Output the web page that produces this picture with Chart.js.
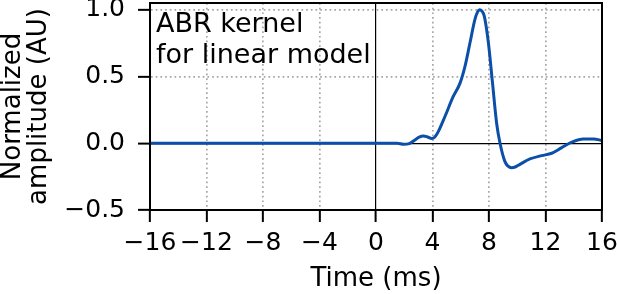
<!DOCTYPE html>
<html>
<head>
<meta charset="utf-8">
<script src="https://cdn.jsdelivr.net/npm/chart.js@4/dist/chart.umd.min.js"></script>
<style>
  html, body { margin: 0; padding: 0; background: #fff; }
  #wrap { width: 617px; height: 294px; }
</style>
</head>
<body>
<div id="wrap"><canvas id="kernel" width="617" height="294"></canvas></div>
<script>
// values
var timeMs = [-16, -8, 0, 1.0, 1.5, 1.95, 2.35, 2.76, 3.05, 3.35, 3.65, 3.94, 4.15, 4.41, 4.88,
  5.47, 5.95, 6.3, 6.65, 7.0, 7.2, 7.33, 7.5, 7.67, 7.96, 8.25, 8.54, 8.78, 9.13, 9.35, 9.6,
  9.85, 10.19, 10.9, 11.73, 12.44, 13.15, 13.86, 14.68, 15.4, 16];
var amplitude = [0, 0, 0, 0, 0, -0.008, -0.003, 0.025, 0.045, 0.055, 0.047, 0.035, 0.045, 0.087, 0.2,
  0.35, 0.45, 0.575, 0.75, 0.925, 0.985, 1.0, 0.99, 0.95, 0.75, 0.45, 0.15, 0.0, -0.138, -0.172, -0.183,
  -0.178, -0.158, -0.118, -0.093, -0.075, -0.033, 0.008, 0.032, 0.032, 0.02];
var xTicks = [-16, -12, -8, -4, 0, 4, 8, 12, 16];
var yTicks = [-0.5, 0, 0.5, 1.0];
var noteLines = ["ABR kernel", "for linear model"];

var FONT = "'DejaVu Sans', sans-serif";
var minus = function (s) { return s.replace("-", "\u2212"); };

var gridColor = function (ctx) {
  return ctx.tick && ctx.tick.value === 0 ? "#000" : "#a6a6a6";
};
var gridWidth = function (ctx) {
  return ctx.tick && ctx.tick.value === 0 ? 1.2 : 1.7;
};
var gridDash = function (ctx) {
  return ctx.tick && ctx.tick.value === 0 ? [] : [1.7, 3];
};

// frame on all four sides + the text box
var framePlugin = {
  id: "frame",
  afterDatasetsDraw: function (chart) {
    var c = chart.ctx, a = chart.chartArea;
    c.save();
    c.fillStyle = "#000";
    c.font = "27px " + FONT;
    c.textBaseline = "alphabetic";
    c.textAlign = "left";
    c.fillText(noteLines[0], a.left + 6, 31.5);
    c.fillText(noteLines[1], a.left + 6, 63);
    c.strokeStyle = "#000";
    c.lineWidth = 2;
    c.strokeRect(a.left, a.top, a.right - a.left, a.bottom - a.top);
    c.restore();
  }
};

new Chart(document.getElementById("kernel"), {
  type: "line",
  data: {
    datasets: [{
      data: timeMs.map(function (t, i) { return { x: t, y: amplitude[i] }; }),
      borderColor: "#0b4fa9",
      borderWidth: 3,
      pointRadius: 0,
      fill: false,
      cubicInterpolationMode: "monotone"
    }]
  },
  options: {
    responsive: false,
    animation: false,
    layout: { padding: { top: 3, right: 15, left: 0, bottom: 0 } },
    plugins: { legend: { display: false }, tooltip: { enabled: false } },
    scales: {
      x: {
        type: "linear",
        min: -16,
        max: 16,
        afterBuildTicks: function (s) { s.ticks = xTicks.map(function (v) { return { value: v }; }); },
        afterFit: function (s) { s.height = 84; s.paddingLeft = 0; s.paddingRight = 0; },
        ticks: {
          autoSkip: false, maxRotation: 0, padding: 6, color: "#000",
          font: { family: FONT, size: 25 },
          callback: function (v) { return minus(String(v)); }
        },
        grid: { color: gridColor, lineWidth: gridWidth, tickColor: "#000", tickWidth: 2, tickLength: 12 },
        border: { display: true, color: "#000", width: 2, dash: gridDash },
        title: {
          display: true, text: "Time (ms)", color: "#000",
          font: { family: FONT, size: 26, lineHeight: 1.0 },
          padding: { top: 0, bottom: 2 }
        }
      },
      y: {
        min: -0.5,
        max: 1.05,
        afterBuildTicks: function (s) { s.ticks = yTicks.map(function (v) { return { value: v }; }); },
        afterFit: function (s) { s.width = 150; s.paddingTop = 0; s.paddingBottom = 0; },
        ticks: {
          padding: 13, color: "#000",
          font: { family: FONT, size: 25 },
          callback: function (v) { return minus(v.toFixed(1)); }
        },
        grid: { color: gridColor, lineWidth: gridWidth, tickColor: "#000", tickWidth: 2, tickLength: 12 },
        border: { display: true, color: "#000", width: 2, dash: gridDash },
        title: {
          display: true, text: ["Normalized", "amplitude (AU)"], color: "#000",
          font: { family: FONT, size: 26, lineHeight: 1.0 },
          padding: { top: 0, bottom: 0 }
        }
      }
    }
  },
  plugins: [framePlugin]
});
</script>
</body>
</html>
